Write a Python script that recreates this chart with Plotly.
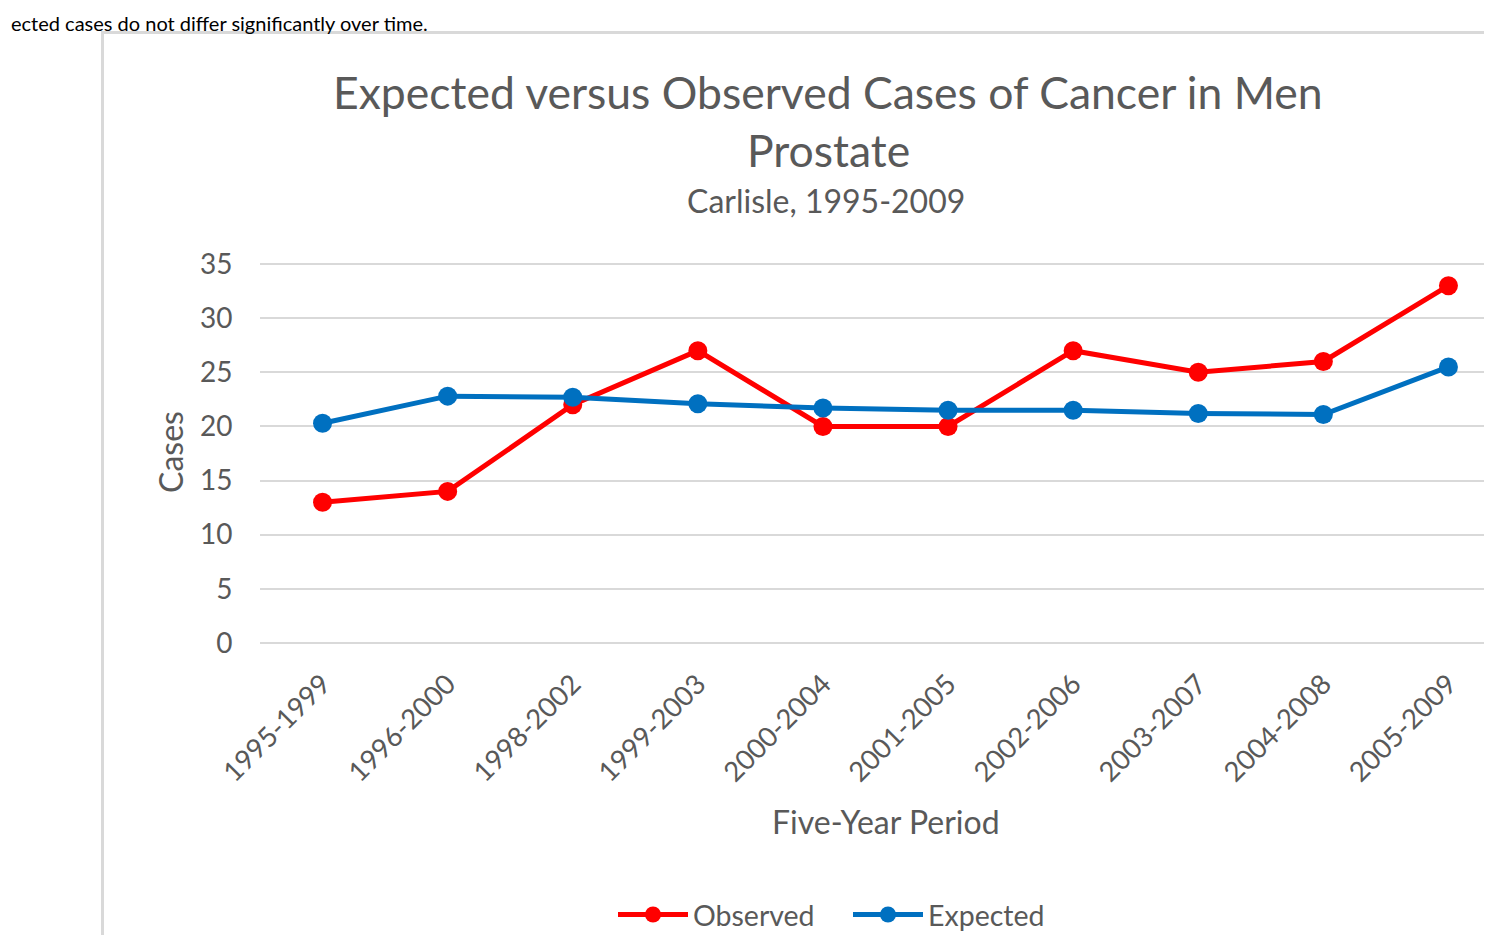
import plotly.graph_objects as go

periods = ["1995-1999", "1996-2000", "1998-2002", "1999-2003", "2000-2004",
           "2001-2005", "2002-2006", "2003-2007", "2004-2008", "2005-2009"]
observed = [13, 14, 22, 27, 20, 20, 27, 25, 26, 33]
expected = [20.3, 22.8, 22.7, 22.1, 21.7, 21.5, 21.5, 21.2, 21.1, 25.5]

FONT = "Lato"
GREY = "#595959"

# the page body has an 8px margin, so screen px = figure px + 8
OFF = 8
L, R, T, B = 260 - OFF, OFF, 263 - OFF, 935 - (644 - OFF)
PW, PH = 1492 - L - R, 935 - T - B


def px_x(x):
    return (x - OFF - L) / PW


def px_y(y):
    return (935 - B - (y - OFF)) / PH


fig = go.Figure()
fig.add_trace(go.Scatter(
    x=list(range(len(periods))), y=observed, name="Observed",
    mode="lines+markers", line=dict(color="#FF0000", width=5),
    marker=dict(size=19, color="#FF0000"),
))
fig.add_trace(go.Scatter(
    x=list(range(len(periods))), y=expected, name="Expected",
    mode="lines+markers", line=dict(color="#0070C0", width=5),
    marker=dict(size=19, color="#0070C0"),
))

fig.update_xaxes(
    range=[-0.5, -0.5 + PW / 125.1], tickmode="array",
    tickvals=list(range(len(periods))), ticktext=periods, tickangle=-45,
    showgrid=False, zeroline=False, showline=False,
    ticks="outside", ticklen=12, tickcolor="rgba(0,0,0,0)",
    tickfont=dict(family=FONT, size=27.5, color=GREY),
)
fig.update_yaxes(
    range=[-0.1, 35.1], tickvals=[0, 5, 10, 15, 20, 25, 30, 35],
    showgrid=True, gridcolor="#D9D9D9", gridwidth=2,
    zeroline=False, showline=False,
    ticks="outside", ticklen=21, tickcolor="rgba(0,0,0,0)",
    tickfont=dict(family=FONT, size=28, color=GREY),
)

annos = [
    dict(text="Expected versus Observed Cases of Cancer in Men", x=828, y=91, size=44.5),
    dict(text="Prostate", x=828, y=150, size=44.5),
    dict(text="Carlisle, 1995-2009", x=826, y=200, size=32),
    dict(text="Five-Year Period", x=886, y=821, size=32),
]
for a in annos:
    fig.add_annotation(
        text=a["text"], x=px_x(a["x"]), y=px_y(a["y"]), xref="paper", yref="paper",
        xanchor="center", yanchor="middle", showarrow=False,
        font=dict(family=FONT, size=a["size"], color=GREY),
    )
fig.add_annotation(
    text="Cases", x=px_x(170), y=px_y(452), xref="paper", yref="paper",
    textangle=-90, showarrow=False, xanchor="center", yanchor="middle",
    font=dict(family=FONT, size=32, color=GREY),
)
# body text of the page above the chart
fig.add_annotation(
    text="ected cases do not differ significantly over time.",
    x=px_x(9), y=px_y(8.5), xref="paper", yref="paper",
    xanchor="left", yanchor="top", showarrow=False,
    font=dict(family=FONT, size=20, color="#000000"),
)

# chart frame
fig.add_shape(type="line", xref="paper", yref="paper",
              x0=px_x(102.5), x1=px_x(102.5), y0=px_y(32.5), y1=px_y(950),
              line=dict(color="#D9D9D9", width=3))
fig.add_shape(type="line", xref="paper", yref="paper",
              x0=px_x(101), x1=px_x(1510), y0=px_y(32.5), y1=px_y(32.5),
              line=dict(color="#D9D9D9", width=3))

fig.update_layout(
    width=1492, height=935,
    margin=dict(l=L, r=R, t=T, b=B),
    plot_bgcolor="white", paper_bgcolor="white",
    showlegend=True,
    legend=dict(
        orientation="h", xref="container", yref="container",
        x=(848 - OFF) / 1492, y=1 - (915 - OFF) / 935,
        xanchor="center", yanchor="middle",
        font=dict(family=FONT, size=28.5, color=GREY), itemwidth=70,
        entrywidth=150, entrywidthmode="pixels",
        bgcolor="rgba(0,0,0,0)",
    ),
)

fig.write_html("out.html")
